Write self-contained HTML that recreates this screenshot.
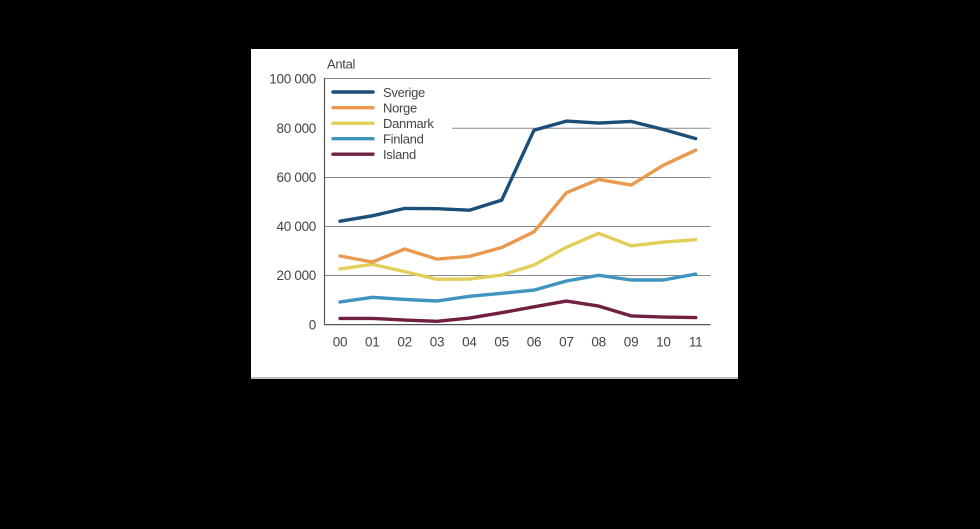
<!DOCTYPE html>
<html><head><meta charset="utf-8"><style>
html,body{margin:0;padding:0;background:#000;}
svg{display:block;}
text{font-family:"Liberation Sans",sans-serif;fill:#444;}
</style></head><body>
<svg width="980" height="529" viewBox="0 0 980 529" xmlns="http://www.w3.org/2000/svg">
<rect x="0" y="0" width="980" height="529" fill="#000"/>
<rect x="251" y="49" width="487" height="330" fill="#fff"/>
<rect x="251" y="377" width="487" height="2" fill="#bdbdbd"/>
<g stroke="#8a8a8a" stroke-width="1" fill="none">
<line x1="324" y1="78.5" x2="710.5" y2="78.5"/>
<line x1="452" y1="128.3" x2="710.5" y2="128.3"/>
<line x1="324" y1="177.5" x2="710.5" y2="177.5"/>
<line x1="324" y1="226.5" x2="710.5" y2="226.5"/>
<line x1="324" y1="275.5" x2="710.5" y2="275.5"/>
</g>
<g stroke="#555" stroke-width="1.2" fill="none">
<line x1="324.5" y1="78" x2="324.5" y2="325"/>
<line x1="324" y1="324.6" x2="710.5" y2="324.6"/>
</g>
<g font-size="13.5" text-anchor="end" letter-spacing="-0.3">
<text x="316" y="83.5">100 000</text>
<text x="316" y="133">80 000</text>
<text x="316" y="182">60 000</text>
<text x="316" y="231">40 000</text>
<text x="316" y="280">20 000</text>
<text x="316" y="329.5">0</text>
</g>
<text x="327" y="68.5" font-size="13" letter-spacing="-0.3">Antal</text>
<g font-size="13.5" text-anchor="middle" letter-spacing="-0.2">
<text x="340" y="346.5">00</text>
<text x="372.3" y="346.5">01</text>
<text x="404.7" y="346.5">02</text>
<text x="437" y="346.5">03</text>
<text x="469.4" y="346.5">04</text>
<text x="501.7" y="346.5">05</text>
<text x="534" y="346.5">06</text>
<text x="566.4" y="346.5">07</text>
<text x="598.7" y="346.5">08</text>
<text x="631.1" y="346.5">09</text>
<text x="663.4" y="346.5">10</text>
<text x="695.7" y="346.5">11</text>
</g>
<g fill="none" stroke-width="3.4" stroke-linejoin="round" stroke-linecap="round">
<polyline stroke="#72203f" points="340,318.4 372.3,318.4 404.7,320.1 437,321.3 469.4,318.1 501.7,312.7 534,306.8 566.4,301.1 598.7,306.1 631.1,315.9 663.4,317.1 695.7,317.6"/>
<polyline stroke="#3f95c0" points="340,302 372.3,297.3 404.7,299.4 437,301 469.4,296.3 501.7,293.3 534,290.1 566.4,281 598.7,275.3 631.1,280 663.4,280 695.7,274.1"/>
<polyline stroke="#e2cf5a" points="340,268.9 372.3,264.3 404.7,271.6 437,279.3 469.4,279 501.7,275.1 534,265 566.4,247.3 598.7,233.3 631.1,245.8 663.4,242.1 695.7,239.7"/>
<polyline stroke="#e99a4e" points="340,256 372.3,262 404.7,249 437,259.1 469.4,256.4 501.7,247.5 534,231.8 566.4,192.7 598.7,179.4 631.1,185.1 663.4,165.2 695.7,150.2"/>
<polyline stroke="#1b4f79" points="340,221.2 372.3,215.8 404.7,208.4 437,208.7 469.4,210.2 501.7,200.1 534,130.2 566.4,121.1 598.7,123.1 631.1,121.4 663.4,129.5 695.7,138.6"/>
</g>
<g stroke-width="3.4" stroke-linecap="round">
<line x1="333" y1="92" x2="373" y2="92" stroke="#1b4f79"/>
<line x1="333" y1="107.7" x2="373" y2="107.7" stroke="#e99a4e"/>
<line x1="333" y1="123.2" x2="373" y2="123.2" stroke="#e2cf5a"/>
<line x1="333" y1="138.7" x2="373" y2="138.7" stroke="#3f95c0"/>
<line x1="333" y1="154.2" x2="373" y2="154.2" stroke="#72203f"/>
</g>
<g font-size="13" letter-spacing="-0.3">
<text x="383" y="96.8">Sverige</text>
<text x="383" y="112.5">Norge</text>
<text x="383" y="128">Danmark</text>
<text x="383" y="143.5">Finland</text>
<text x="383" y="159">Island</text>
</g>
</svg>
</body></html>
